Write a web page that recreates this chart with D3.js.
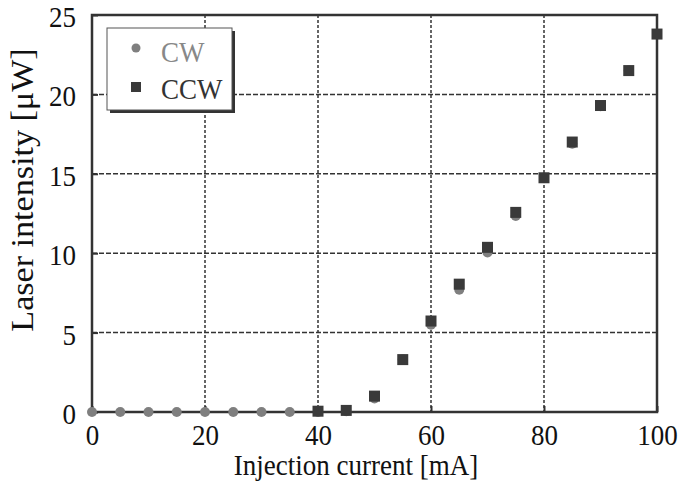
<!DOCTYPE html>
<html><head><meta charset="utf-8">
<script src="https://cdn.jsdelivr.net/npm/d3@7"></script>
<style>body{margin:0;background:#fff}svg{display:block;font-family:'Liberation Serif','Times New Roman',serif}</style>
</head><body>
<svg id="c" width="681" height="486"></svg>
<script>
const cwX = [0,5,10,15,20,25,30,35,40,45,50,55,60,65,70,75,80,85,90,95,100];
const cwY = [0,0,0,0,0,0,0,0,0,0.05,0.85,3.3,5.5,7.7,10.05,12.35,14.75,16.9,19.25,21.5,23.8];
const ccwX = [40,45,50,55,60,65,70,75,80,85,90,95,100];
const ccwY = [0.05,0.1,1.0,3.3,5.73,8.05,10.37,12.57,14.75,17.0,19.3,21.5,23.8];
const xTicks = [0,20,40,60,80,100];
const yTicks = [0,5,10,15,20,25];
const seriesNames = ["CW","CCW"];

const svg = d3.select("#c");
const L=92, R=657, T=15, B=412;
const x = d3.scaleLinear().domain([0,100]).range([L,R]);
const y = d3.scaleLinear().domain([0,25]).range([B,T]);
const dark="#333";
const FS=27, SY=1.1;
const serif="'Liberation Serif','Times New Roman',serif";

// grid
const g = svg.append("g");
g.selectAll(".vg").data(xTicks.slice(1,-1)).enter().append("line")
 .attr("x1",d=>x(d)).attr("x2",d=>x(d)).attr("y1",T).attr("y2",B)
 .attr("stroke",dark).attr("stroke-width",1.5).attr("stroke-dasharray","3,2");
g.selectAll(".hg").data(yTicks.slice(1,-1)).enter().append("line")
 .attr("x1",L).attr("x2",R).attr("y1",d=>y(d)).attr("y2",d=>y(d))
 .attr("stroke",dark).attr("stroke-width",1.5).attr("stroke-dasharray","5,2");

// frame
svg.append("rect").attr("x",L).attr("y",T).attr("width",R-L).attr("height",B-T)
 .attr("fill","none").attr("stroke",dark).attr("stroke-width",2.5);

// axes (inward ticks)
const xa = svg.append("g").attr("transform",`translate(0,${B})`)
 .call(d3.axisBottom(x).tickValues(xTicks).tickSize(-6));
const ya = svg.append("g").attr("transform",`translate(${L},0)`)
 .call(d3.axisLeft(y).tickValues(yTicks).tickSize(-6));
[xa,ya].forEach(a=>{
  a.attr("font-family",serif).attr("font-size",FS);
  a.select(".domain").remove();
  a.selectAll(".tick line").attr("stroke",dark).attr("stroke-width",2);
  a.selectAll("text").attr("font-family",serif).attr("font-size",FS).attr("fill","#111")
   .attr("x",0).attr("y",0).attr("dy",null);
});
ya.selectAll("text").attr("text-anchor","end").attr("transform",`translate(-16,11.5) scale(1,${SY})`);
xa.selectAll("text").attr("text-anchor","middle").attr("transform",`translate(0,33) scale(1,${SY})`);

// data
svg.append("g").selectAll("circle").data(cwX.map((d,i)=>[d,cwY[i]])).enter().append("circle")
 .attr("cx",d=>x(d[0])).attr("cy",d=>y(d[1])).attr("r",5).attr("fill","#7f7f7f");
svg.append("g").selectAll("rect").data(ccwX.map((d,i)=>[d,ccwY[i]])).enter().append("rect")
 .attr("x",d=>x(d[0])-5.5).attr("y",d=>y(d[1])-5.5).attr("width",11).attr("height",11).attr("fill","#3a3a3a");

// axis titles
svg.append("text").attr("transform",`translate(356,475) scale(1,${SY})`).attr("text-anchor","middle")
 .attr("font-family",serif).attr("font-size",FS).attr("fill","#111").text("Injection current [mA]");
svg.append("text").attr("transform",`translate(33,190) scale(1,${SY}) rotate(-90)`).attr("text-anchor","middle")
 .attr("font-family",serif).attr("font-size",31).attr("fill","#111").text("Laser intensity [μW]");

// legend
const lg = svg.append("g");
lg.append("rect").attr("x",110).attr("y",31).attr("width",125).attr("height",82).attr("fill","#333");
lg.append("rect").attr("x",107).attr("y",28).attr("width",125).attr("height",82).attr("fill","#fff").attr("stroke","#555").attr("stroke-width",1);
lg.append("circle").attr("cx",136).attr("cy",48).attr("r",4.5).attr("fill","#7f7f7f");
lg.append("rect").attr("x",131).attr("y",82).attr("width",10).attr("height",10).attr("fill","#3a3a3a");
lg.append("text").attr("transform",`translate(161,62) scale(1,${SY})`).attr("font-family",serif).attr("font-size",FS).attr("fill","#888").text(seriesNames[0]);
lg.append("text").attr("transform",`translate(161,99) scale(1,${SY})`).attr("font-family",serif).attr("font-size",FS).attr("fill","#333").text(seriesNames[1]);
</script>
</body></html>
